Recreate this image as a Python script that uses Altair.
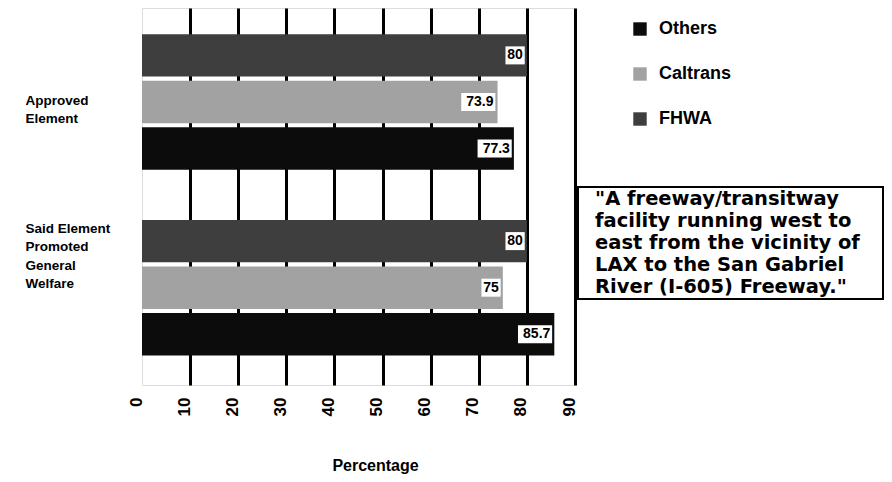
import altair as alt
import pandas as pd

# ---- data ----
group_lines = [["Approved", "Element"], ["Said Element", "Promoted", "General", "Welfare"]]
series = ["Others", "Caltrans", "FHWA"]
others = [77.3, 85.7]
caltrans = [73.9, 75.0]
fhwa = [80.0, 80.0]
x_ticks = [0, 10, 20, 30, 40, 50, 60, 70, 80, 90]
box_lines = ['"A freeway/transitway', "facility running west to",
             "east from the vicinity of", "LAX to the San Gabriel",
             'River (I-605) Freeway."']

groups = ["|".join(g) for g in group_lines]
rows = []
for s, vals in zip(series, [others, caltrans, fhwa]):
    for g, v in zip(groups, vals):
        rows.append({"group": g, "series": s, "value": v, "label": f"{v:g}"})
df = pd.DataFrame(rows)

FONT = "Liberation Sans"
bar_order = ["FHWA", "Caltrans", "Others"]

y_enc = alt.Y(
    "group:N", sort=groups,
    scale=alt.Scale(paddingInner=0.27, paddingOuter=0.15, align=0.47),
    axis=alt.Axis(
        title=None, domain=False, ticks=False, tickSize=0, grid=False,
        labelAlign="left", labelPadding=117, labelFont=FONT, labelFontSize=13.5,
        labelFontWeight="bold", labelColor="black", labelLineHeight=18.5,
        labelExpr="split(datum.label, '|')",
        labelOffset={"condition": {"test": f"datum.value == '{groups[0]}'", "value": -1},
                     "value": -59},
    ),
)
yoff = alt.YOffset("series:N", sort=bar_order, scale=alt.Scale(paddingInner=0.09))
x_enc = alt.X(
    "value:Q",
    scale=alt.Scale(domain=[0, 90], nice=False, zero=True),
    axis=alt.Axis(
        values=x_ticks, grid=True, gridColor="black", gridWidth=3,
        gridOpacity={"condition": {"test": "datum.value == 0", "value": 0}, "value": 1},
        domain=False, ticks=False, tickSize=0,
        labelAngle=270, labelFont=FONT, labelFontSize=17, labelFontWeight="bold",
        labelColor="black", labelPadding=12, labelOffset=-6,
        title="Percentage", titleFont=FONT, titleFontSize=16, titleFontWeight="bold",
        titleColor="black", titleX=233, titleY=80, titleBaseline="middle",
    ),
)

base = alt.Chart(df)

bars = base.mark_bar().encode(
    x=x_enc,
    y=y_enc,
    yOffset=yoff,
    color=alt.Color(
        "series:N",
        scale=alt.Scale(domain=series, range=["#0c0c0c", "#a2a2a2", "#3e3e3e"]),
        legend=alt.Legend(
            title=None, orient="none", legendX=489, legendY=12,
            symbolType="square", symbolSize=180, symbolStrokeWidth=0,
            labelFont=FONT, labelFontSize=18, labelFontWeight="bold",
            labelColor="black", labelOffset=10, rowPadding=27,
        ),
    ),
)

boxes = base.transform_calculate(
    xr="datum.value - 0.45",
    xl="datum.value - 0.45 - (length(datum.label) * 1.55 + 0.9)",
).mark_bar(color="white", size=18).encode(
    x="xl:Q", x2="xr:Q", y=alt.Y("group:N", sort=groups), yOffset=yoff,
)

labels = base.mark_text(
    align="right", baseline="middle", dx=-4, font=FONT, fontSize=14,
    fontWeight="bold", color="black",
).encode(x="value:Q", y=alt.Y("group:N", sort=groups), yOffset=yoff, text="label:N")

note_df = pd.DataFrame({"k": [0]})
note_box = alt.Chart(note_df).mark_rect(
    fill="white", fillOpacity=0, stroke="black", strokeWidth=2
).encode(x=alt.value(436), x2=alt.value(741), y=alt.value(179), y2=alt.value(291))
note_text = alt.Chart(note_df).mark_text(
    align="left", baseline="top", font="DejaVu Sans", fontSize=19.5, fontWeight="bold",
    lineHeight=22, color="black",
).encode(x=alt.value(453), y=alt.value(182), text=alt.value(box_lines))

chart = alt.layer(bars, boxes, labels, note_box, note_text).properties(
    width=433, height=377,
    autosize=alt.AutoSizeParams(type="none"),
    padding={"left": 134, "top": 0, "right": 309, "bottom": 89},
).configure_view(stroke=None).configure(background="white")

chart.save("out.html", embed_options={"renderer": "svg", "actions": False})
